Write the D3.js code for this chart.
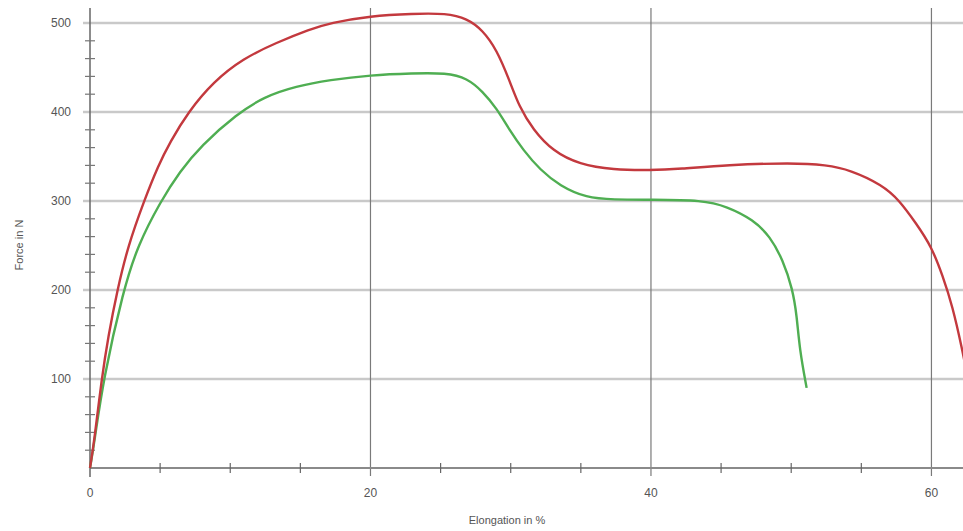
<!DOCTYPE html>
<html>
<head>
<meta charset="utf-8">
<script src="https://cdn.jsdelivr.net/npm/d3@7"></script>
<style>
  body { margin: 0; background: #fff; }
  text { font-family: "Liberation Sans", Arial, sans-serif; fill: #555; }
</style>
</head>
<body>
<div id="chart"></div>
<script>
// force-elongation curves
const redElong = [0, 0.3, 0.83, 1.3, 1.95, 2.7, 3.85, 4.87, 5.7, 7, 8.8, 10.9, 13.3, 15.7, 17.1, 20, 23, 25.4, 26.9, 28, 29, 29.9, 30.6, 31.6, 33, 34.9, 37.3, 40, 42, 45.4, 50.1, 52.5, 54.2, 56.5, 57.7, 58.9, 60, 60.8, 61.5, 62.2, 62.6];
const redForce = [0, 30, 100, 148, 200, 249, 300, 340, 366, 400, 434, 460, 478, 493, 500, 508, 510.5, 511, 505, 492, 470, 436, 406, 380, 356, 341, 335, 334.5, 336, 340.5, 343, 340.5, 335, 318, 301, 275, 249, 216, 182, 133, 100];

const greenElong = [0, 0.3, 0.95, 2.38, 3.4, 5.05, 6.4, 7.9, 10.5, 12.4, 14.7, 17.1, 20, 23, 25.4, 26.9, 28, 29, 29.9, 30.9, 32.1, 33.5, 35.4, 37.3, 40, 43.7, 45.4, 47.3, 48.5, 49.4, 50.1, 50.4, 50.6, 51.1];
const greenForce = [0, 28, 100, 200, 250, 300, 333, 362, 398, 417, 429, 436, 441.5, 443.5, 444, 438, 423, 404, 380, 357, 335, 317, 303.5, 301.5, 301.5, 301, 294, 279, 260, 234, 201, 171, 133, 90];

const xTicks = [0, 20, 40, 60];
const yTicks = [100, 200, 300, 400, 500];

const width = 963, height = 531;
const margin = {top: 8, right: 0, bottom: 63, left: 90};

const svg = d3.select("#chart").append("svg")
    .attr("width", width)
    .attr("height", height);

const x = d3.scaleLinear().domain([0, 62.25]).range([margin.left, width]);
const y = d3.scaleLinear().domain([0, 500]).range([468, 23]);

// horizontal grid
svg.append("g").selectAll("line")
    .data(yTicks)
    .join("line")
    .attr("x1", margin.left - 7).attr("x2", width)
    .attr("y1", d => y(d)).attr("y2", d => y(d))
    .attr("stroke", "#c9c9c9")
    .attr("stroke-width", 2.5);

// vertical grid
svg.append("g").selectAll("line")
    .data(xTicks.filter(d => d > 0))
    .join("line")
    .attr("x1", d => x(d)).attr("x2", d => x(d))
    .attr("y1", margin.top).attr("y2", 476)
    .attr("stroke", "#7a7a7a")
    .attr("stroke-width", 1.2);

// x axis line + minor ticks
svg.append("line")
    .attr("x1", margin.left).attr("x2", width)
    .attr("y1", y(0)).attr("y2", y(0))
    .attr("stroke", "#8a8a8a")
    .attr("stroke-width", 2);

svg.append("g").selectAll("line")
    .data(d3.range(5, 62, 5).filter(d => d % 20 !== 0))
    .join("line")
    .attr("x1", d => x(d)).attr("x2", d => x(d))
    .attr("y1", y(0) - 5).attr("y2", y(0) + 5)
    .attr("stroke", "#666")
    .attr("stroke-width", 1.2);

// y axis line + minor ticks
svg.append("line")
    .attr("x1", margin.left).attr("x2", margin.left)
    .attr("y1", margin.top).attr("y2", 477)
    .attr("stroke", "#666")
    .attr("stroke-width", 1.5);

svg.append("g").selectAll("line")
    .data(d3.range(20, 500, 20).filter(d => d % 100 !== 0))
    .join("line")
    .attr("x1", margin.left - 5).attr("x2", margin.left + 5)
    .attr("y1", d => y(d)).attr("y2", d => y(d))
    .attr("stroke", "#777")
    .attr("stroke-width", 1.2);

// tick labels
svg.append("g").selectAll("text")
    .data(yTicks)
    .join("text")
    .attr("x", 71)
    .attr("y", d => y(d))
    .attr("dy", "0.35em")
    .attr("text-anchor", "end")
    .style("font-size", "12px")
    .text(d => d);

svg.append("g").selectAll("text")
    .data(xTicks)
    .join("text")
    .attr("x", d => x(d))
    .attr("y", 497)
    .attr("text-anchor", "middle")
    .style("font-size", "12px")
    .text(d => d);

// axis titles
svg.append("text")
    .attr("transform", `translate(23, 245) rotate(-90)`)
    .attr("text-anchor", "middle")
    .style("font-size", "11px")
    .text("Force in N");

svg.append("text")
    .attr("x", 507)
    .attr("y", 524)
    .attr("text-anchor", "middle")
    .style("font-size", "11px")
    .text("Elongation in %");

// curves
svg.append("clipPath").attr("id", "plot-clip")
    .append("rect")
    .attr("x", margin.left - 2).attr("y", 0)
    .attr("width", width - margin.left + 2).attr("height", y(0) + 1);

// b-spline smooths out the reading noise in the points
const line = d3.line()
    .x(d => x(d[0]))
    .y(d => y(d[1]))
    .curve(d3.curveBasis);

const series = [
    {pts: d3.zip(greenElong, greenForce), color: "#4fae52"},
    {pts: d3.zip(redElong, redForce), color: "#c3393e"}
];

svg.append("g")
    .attr("clip-path", "url(#plot-clip)")
    .selectAll("path")
    .data(series)
    .join("path")
    .attr("d", d => line(d.pts))
    .attr("fill", "none")
    .attr("stroke", d => d.color)
    .attr("stroke-width", 2.4);
</script>
</body>
</html>
